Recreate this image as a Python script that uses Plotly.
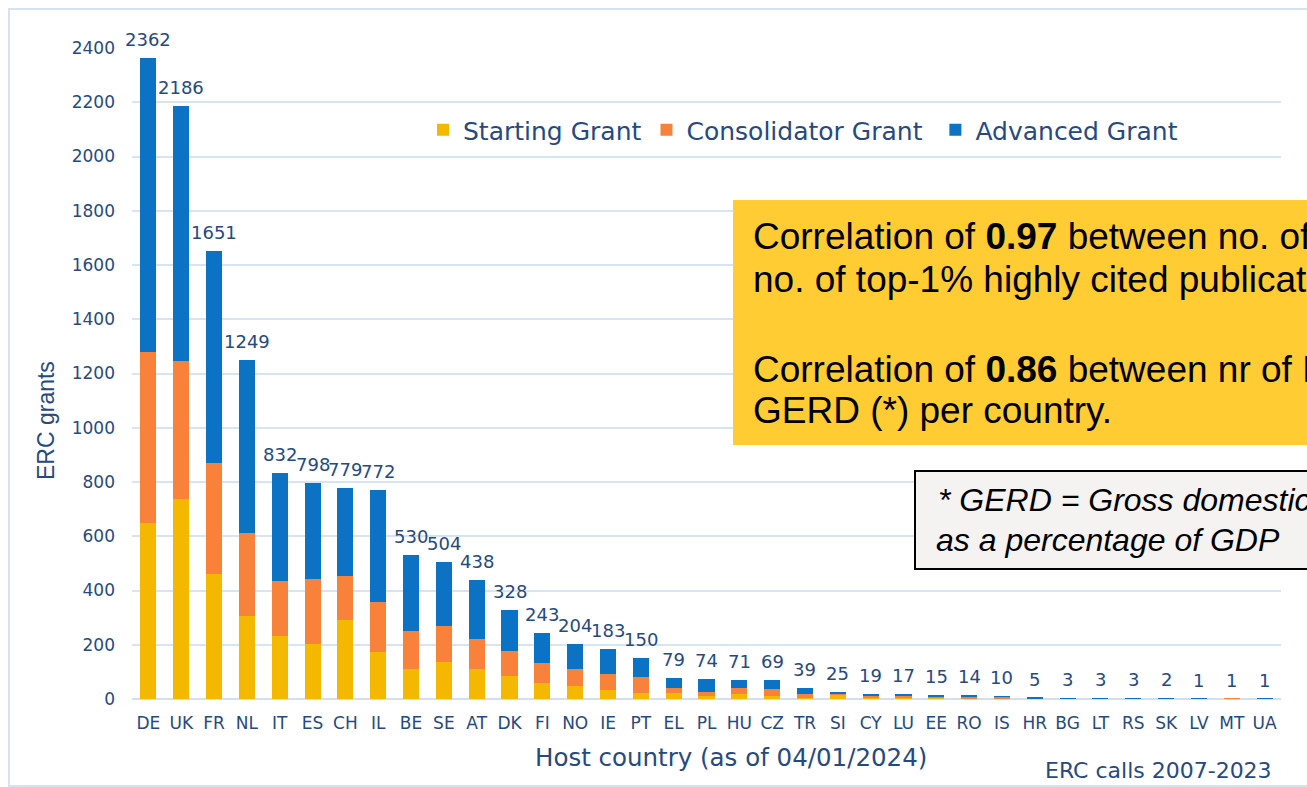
import plotly.graph_objects as go

countries = ["DE", "UK", "FR", "NL", "IT", "ES", "CH", "IL", "BE", "SE", "AT", "DK", "FI", "NO", "IE",
             "PT", "EL", "PL", "HU", "CZ", "TR", "SI", "CY", "LU", "EE", "RO", "IS", "HR", "BG", "LT",
             "RS", "SK", "LV", "MT", "UA"]
starting = [649, 737, 461, 306, 232, 203, 291, 173, 111, 136, 111, 85, 59, 48, 33,
            22, 22, 11, 18, 11, 4, 15, 3, 2, 6, 2, 3, 1, 0, 1,
            0, 1, 0, 0, 0]
consolidator = [630, 509, 409, 306, 203, 239, 162, 185, 140, 133, 110, 92, 74, 63, 59,
                59, 19, 15, 23, 26, 14, 5, 10, 12, 2, 4, 5, 1, 1, 0,
                1, 0, 0, 1, 0]
advanced = [1083, 940, 781, 637, 397, 356, 326, 414, 279, 235, 217, 151, 110, 93, 91,
            69, 38, 48, 30, 32, 21, 5, 6, 3, 7, 8, 2, 3, 2, 2,
            2, 1, 1, 0, 1]
series_names = ["Starting Grant", "Consolidator Grant\u00a0", "Advanced Grant"]
series_colors = ["#F4B800", "#F8823A", "#0B72C4"]

totals = [s + c + a for s, c, a in zip(starting, consolidator, advanced)]

W, H = 1307, 787
PL_, PR_, PT_, PB_ = 132, 1281, 48, 699   # plot area in window pixels
L, R, T, B = PL_, W - PR_, PT_, H - PB_
PW, PH = PR_ - PL_, PB_ - PT_


def px(x):
    return (x - PL_) / PW


def py(y):
    return (PB_ - y) / PH


TXT = "#264A80"
CHART_FONT = "DejaVu Sans"
BOX_FONT = "Liberation Sans, Arial"

fig = go.Figure()
for name, vals, col in zip(series_names, [starting, consolidator, advanced], series_colors):
    fig.add_trace(go.Bar(x=countries, y=vals, name=name, marker=dict(color=col, line=dict(width=0)),
                         width=0.49))

annotations = []
for c, t in zip(countries, totals):
    annotations.append(dict(x=c, y=t, xref="x", yref="y", text=str(t), showarrow=False,
                            yanchor="bottom", yshift=6, font=dict(family=CHART_FONT, size=18, color=TXT)))

annotations.append(dict(x=px(731), y=py(757), xref="paper", yref="paper", xanchor="center", yanchor="middle",
                        text="Host country (as of 04/01/2024)", showarrow=False,
                        font=dict(family=CHART_FONT, size=24.5, color=TXT)))
annotations.append(dict(x=px(46), y=py(421), xref="paper", yref="paper", xanchor="center", yanchor="middle",
                        text="ERC grants", textangle=-90, showarrow=False,
                        font=dict(family=BOX_FONT, size=23, color=TXT)))
annotations.append(dict(x=px(1158), y=py(770), xref="paper", yref="paper", xanchor="center", yanchor="middle",
                        text="ERC calls 2007-2023", showarrow=False,
                        font=dict(family=CHART_FONT, size=22, color=TXT)))

yellow_lines = [
    (236, "Correlation of <b>0.97</b> between no. of ERC grants and"),
    (279, "no. of top-1% highly cited publications"),
    (369, "Correlation of <b>0.86</b> between nr of ERC grants and"),
    (411, "GERD (*) per country."),
]
for yy, txt in yellow_lines:
    annotations.append(dict(x=px(751), y=py(yy), xref="paper", yref="paper", xanchor="left", yanchor="middle",
                            text=txt, showarrow=False, font=dict(family=BOX_FONT, size=37, color="#000000")))

gerd_lines = [
    (936, 500, "<i>* GERD = Gross domestic expenditure on R&amp;D</i>"),
    (934, 540, "<i>as a percentage of GDP</i>"),
]
for xx, yy, txt in gerd_lines:
    annotations.append(dict(x=px(xx), y=py(yy), xref="paper", yref="paper", xanchor="left", yanchor="middle",
                            text=txt, showarrow=False, font=dict(family=BOX_FONT, size=32, color="#000000")))

shapes = [
    dict(type="rect", xref="paper", yref="paper", x0=px(9), x1=px(1340), y0=py(786), y1=py(9),
         line=dict(color="#D6E2F0", width=2), fillcolor="rgba(0,0,0,0)", layer="below"),
    dict(type="rect", xref="paper", yref="paper", x0=px(733), x1=px(1340), y0=py(445), y1=py(200),
         line=dict(width=0), fillcolor="#FFCC33", layer="above"),
    dict(type="rect", xref="paper", yref="paper", x0=px(915), x1=px(1340), y0=py(569), y1=py(471),
         line=dict(color="#000000", width=2), fillcolor="#F5F3F2", layer="above"),
]

fig.update_layout(
    barmode="stack",
    width=W, height=H,
    margin=dict(l=L, r=R, t=T, b=B),
    paper_bgcolor="white", plot_bgcolor="white",
    font=dict(family=CHART_FONT, color=TXT),
    legend=dict(orientation="h", x=px(423), y=py(130), xanchor="left", yanchor="middle",
                font=dict(family=CHART_FONT, size=25, color=TXT), bgcolor="rgba(0,0,0,0)",
                traceorder="normal", itemclick=False),
    xaxis=dict(type="category", range=[-0.5, len(countries) - 0.5], showgrid=False, showline=False,
               ticks="", tickfont=dict(family=CHART_FONT, size=17, color=TXT), ticklabelstandoff=12),
    yaxis=dict(range=[0, 2400], dtick=200, showgrid=True, gridcolor="#D9E4F2", gridwidth=1.5,
               zeroline=True, zerolinecolor="#D3DFEE", zerolinewidth=2, showline=False, ticks="",
               tickfont=dict(family=CHART_FONT, size=17, color=TXT), ticklabelstandoff=16),
    annotations=annotations,
    shapes=shapes,
)

fig.write_html("out.html", config={"displayModeBar": False},
               post_script="document.body.style.margin='0';document.body.style.overflow='hidden';")
